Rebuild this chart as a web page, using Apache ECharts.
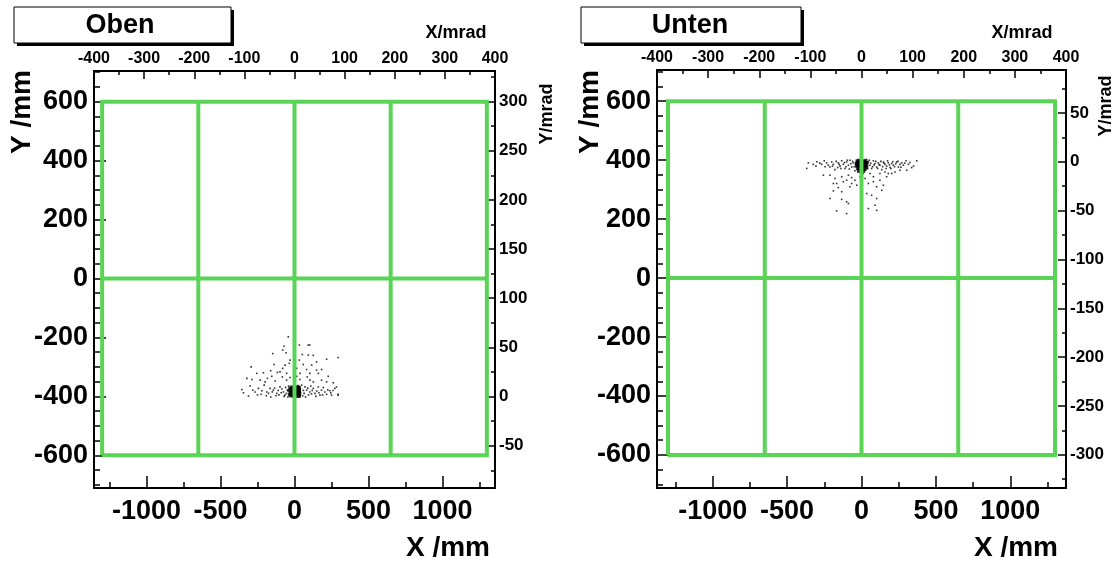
<!DOCTYPE html>
<html>
<head>
<meta charset="utf-8">
<script src="https://cdn.jsdelivr.net/npm/echarts@6/dist/echarts.min.js"></script>
<style>html,body{margin:0;padding:0;background:#fff}#c{width:1120px;height:561px}</style>
</head>
<body>
<div id="c"></div>
<script>
// ---------------- data ----------------
const panelTitles = ['Oben', 'Unten'];
const gridXmm = [-1300, -650, 0, 650, 1300];
const gridYmm = [-600, 0, 600];
const xMmLabels = [-1000, -500, 0, 500, 1000];
const xMmMinor = [-1250, -750, -250, 250, 750, 1250];
const yMmLabels = [-600, -400, -200, 0, 200, 400, 600];
const yMmMinor = [-700, -650, -550, -500, -450, -350, -300, -250, -150, -100, -50, 50, 100, 150, 250, 300, 350, 450, 500, 550, 650, 700];
const xMradLabels = [-400, -300, -200, -100, 0, 100, 200, 300, 400];
const xMradMinor = [-350, -250, -150, -50, 50, 150, 250, 350];
const yMradLabelsOben = [-50, 0, 50, 100, 150, 200, 250, 300];
const yMradMinorOben = [-75, -25, 25, 75, 125, 175, 225, 275, 325];
const yMradLabelsUnten = [-300, -250, -200, -150, -100, -50, 0, 50];
const yMradMinorUnten = [-325, -275, -225, -175, -125, -75, -25, 25, 75];

// hits, Oben (x mm, y mm)
const obenSparse = [[-42,-198],[33,-226],[93,-226],[104,-226],[-71,-230],[-80,-243],[-147,-255],[-57,-252],[53,-258],[93,-260],[127,-261],[295,-268],[-30,-277],[33,-277],[217,-274],[149,-283],[-64,-294],[-35,-288],[-293,-300],[-138,-292],[59,-292],[116,-294],[-80,-305],[15,-305],[82,-309],[149,-311],[183,-309],[-255,-322],[-210,-320],[-161,-313],[-98,-317],[-116,-319],[-53,-322],[37,-322],[104,-322],[161,-322],[228,-332],[-183,-339],[-154,-332],[-82,-334],[-30,-336],[15,-332],[86,-334],[-322,-339],[-288,-343],[-232,-345],[-199,-351],[-131,-348],[-53,-345],[37,-343],[104,-345],[127,-351],[183,-345],[217,-351],[262,-354]];
const obenBand = [[-356,-377],[-345,-388],[-300,-365],[-282,-379],[-266,-385],[-244,-373],[-221,-381],[-311,-399],[-226,-393],[-187,-385],[-165,-373],[-143,-379],[-120,-390],[-98,-368],[-75,-385],[-64,-396],[-48,-379],[-30,-373],[48,-362],[71,-368],[82,-379],[104,-385],[127,-373],[138,-390],[161,-368],[172,-396],[183,-379],[205,-385],[217,-393],[239,-381],[250,-396],[273,-373],[295,-396],[284,-368],[295,-393],[-250,-395],[-205,-362],[-190,-398],[-175,-390],[-160,-402],[-150,-385],[-135,-372],[-125,-398],[-110,-380],[-105,-395],[-90,-388],[-85,-375],[-70,-400],[-60,-370],[-55,-390],[-45,-402],[-40,-365],[-35,-395],[-25,-383],[-20,-400],[-15,-370],[55,-398],[60,-380],[65,-390],[75,-402],[90,-372],[95,-395],[110,-365],[115,-392],[120,-380],[145,-400],[150,-382],[165,-388],[190,-395],[195,-370],[225,-378],[245,-388],[260,-380]];
const obenCore = [[-38,-380],[-35,-392],[-32,-372],[-30,-398],[-28,-385],[-25,-376],[-22,-390],[-20,-368],[-18,-395],[-15,-382],[-12,-375],[-10,-400],[-8,-388],[-5,-378],[-3,-393],[0,-370],[2,-385],[5,-398],[8,-376],[10,-390],[12,-368],[14,-380],[15,-395],[17,-372],[18,-386],[20,-400],[21,-378],[22,-392],[24,-366],[25,-384],[26,-398],[27,-374],[28,-388],[30,-380],[31,-394],[32,-370],[33,-386],[34,-400],[35,-376],[36,-390],[22,-382],[26,-378],[30,-372],[19,-395],[28,-396],[33,-380],[24,-388],[16,-384],[20,-374],[31,-386]];

// hits, Unten (x mm, y mm)
const untenBand = [[-357,391],[-368,372],[-324,386],[-306,380],[-268,386],[-234,391],[-223,383],[-212,377],[-200,394],[-189,386],[-178,368],[-156,391],[-144,380],[-133,398],[-122,386],[-111,372],[-100,394],[-88,383],[-77,400],[-66,377],[-55,391],[-44,364],[-32,394],[-21,380],[46,394],[57,383],[68,372],[80,398],[91,389],[102,377],[113,391],[124,383],[136,368],[147,394],[158,386],[169,380],[180,391],[192,375],[203,389],[214,383],[236,394],[248,377],[259,386],[270,391],[281,383],[299,398],[315,386],[337,375],[371,398],[-300,395],[-280,390],[-250,398],[-245,378],[-195,380],[-170,396],[-160,375],[-150,386],[-138,372],[-115,392],[-105,378],[-95,400],[-82,370],[-72,388],[-60,396],[-50,378],[-40,386],[-28,370],[-25,399],[-15,390],[30,386],[40,372],[52,400],[62,390],[75,378],[85,384],[96,396],[108,372],[118,385],[130,396],[142,378],[152,390],[165,372],[175,398],[188,384],[198,372],[210,395],[222,378],[230,388],[245,396],[265,376],[290,390],[325,392],[350,380]];
const untenSparse = [[-256,349],[-189,321],[-167,321],[-156,307],[-122,327],[-100,332],[-77,310],[-66,321],[-44,332],[-32,315],[-189,296],[-133,293],[-212,270],[-133,267],[-100,259],[-88,253],[-167,228],[-100,219],[24,338],[46,321],[80,327],[102,310],[124,332],[136,298],[147,315],[169,344],[180,355],[35,287],[68,281],[102,270],[46,236],[91,247],[102,230],[-10,344],[12,355],[57,355],[80,344],[124,355],[158,360],[203,355],[225,360],[259,366],[304,366],[-212,349],[-178,338],[-133,344],[-88,349],[-66,341]];
const untenCore = [[-35,390],[-32,378],[-30,398],[-28,384],[-25,370],[-22,394],[-20,380],[-18,400],[-15,388],[-12,372],[-10,396],[-8,382],[-5,390],[-3,376],[0,400],[3,386],[5,366],[8,394],[10,380],[12,398],[14,372],[16,388],[18,378],[20,396],[22,384],[24,368],[26,392],[28,380],[30,400],[32,386],[35,374],[38,392],[-26,388],[-16,394],[-6,386],[6,392],[16,382],[26,386],[36,382],[-34,384],[-12,380],[0,378],[10,388],[20,388],[30,392],[-20,362],[15,362],[-5,364]];

// ---------------- chart ----------------
const FONT = '"Liberation Sans", Arial, Helvetica, sans-serif';
const GREEN = '#59d454';

function mkAxis(o) {
  const a = {
    type: 'value', gridIndex: o.g, position: o.pos, min: o.min, max: o.max, offset: 0,
    axisLine: { show: !!o.line, onZero: false, lineStyle: { color: '#000', width: 2 } },
    axisTick: { show: true, inside: true, length: o.len, customValues: o.ticks, lineStyle: { color: '#000', width: 1.5 } },
    axisLabel: { show: false },
    splitLine: { show: false }, minorTick: { show: false }, splitArea: { show: false },
    axisPointer: { show: false }
  };
  if (o.labels) {
    a.axisLabel = { show: true, customValues: o.labels, formatter: v => String(v), fontFamily: FONT,
      fontWeight: 'bold', fontSize: o.fs, color: '#000', margin: o.margin };
  }
  return a;
}

const panels = [
  { grid: { left: 94, top: 71, width: 401, height: 417 }, xmm: [-1355, 1355], ymm: [-711, 704], ymrad: [-93, 331],
    mradLabels: yMradLabelsOben, mradMinor: yMradMinorOben, pts: [obenSparse, obenBand], core: obenCore },
  { grid: { left: 657, top: 70, width: 409, height: 418 }, xmm: [-1374, 1374], ymm: [-712, 706], ymrad: [-334, 94],
    mradLabels: yMradLabelsUnten, mradMinor: yMradMinorUnten, pts: [untenSparse, untenBand], core: untenCore }
];

const grids = [], xAxes = [], yAxes = [], series = [];
panels.forEach((p, i) => {
  grids.push(Object.assign({ containLabel: false }, p.grid));
  const xi = xAxes.length, yi = yAxes.length;
  xAxes.push(mkAxis({ g: i, pos: 'bottom', min: p.xmm[0], max: p.xmm[1], line: true, len: 12, ticks: xMmLabels, labels: xMmLabels, fs: 27, margin: 10 }));
  xAxes.push(mkAxis({ g: i, pos: 'bottom', min: p.xmm[0], max: p.xmm[1], len: 6, ticks: xMmMinor }));
  xAxes.push(mkAxis({ g: i, pos: 'top', min: -400, max: 400, line: true, len: 8, ticks: xMradLabels, labels: xMradLabels, fs: 16, margin: 4 }));
  xAxes.push(mkAxis({ g: i, pos: 'top', min: -400, max: 400, len: 4, ticks: xMradMinor }));
  yAxes.push(mkAxis({ g: i, pos: 'left', min: p.ymm[0], max: p.ymm[1], line: true, len: 12, ticks: yMmLabels, labels: yMmLabels, fs: 27, margin: 6 }));
  yAxes.push(mkAxis({ g: i, pos: 'left', min: p.ymm[0], max: p.ymm[1], len: 6, ticks: yMmMinor }));
  yAxes.push(mkAxis({ g: i, pos: 'right', min: p.ymrad[0], max: p.ymrad[1], line: true, len: 8, ticks: p.mradLabels, labels: p.mradLabels, fs: 17, margin: 4 }));
  yAxes.push(mkAxis({ g: i, pos: 'right', min: p.ymrad[0], max: p.ymrad[1], len: 4, ticks: p.mradMinor }));

  p.pts.forEach(d => series.push({ type: 'scatter', xAxisIndex: xi, yAxisIndex: yi, data: d, symbol: 'rect',
    symbolSize: 1.6, itemStyle: { color: '#000' }, silent: true, z: 2 }));
  series.push({ type: 'scatter', xAxisIndex: xi, yAxisIndex: yi, data: p.core, symbol: 'rect',
    symbolSize: 3, itemStyle: { color: '#000' }, silent: true, z: 2 });

  const gx0 = gridXmm[0], gx1 = gridXmm[gridXmm.length - 1];
  const gy0 = gridYmm[0], gy1 = gridYmm[gridYmm.length - 1];
  const segs = [{ coords: [[gx0, gy0], [gx1, gy0], [gx1, gy1], [gx0, gy1], [gx0, gy0]] }];
  gridXmm.slice(1, -1).forEach(x => segs.push({ coords: [[x, gy0], [x, gy1]] }));
  gridYmm.slice(1, -1).forEach(y => segs.push({ coords: [[gx0, y], [gx1, y]] }));
  series.push({ type: 'lines', coordinateSystem: 'cartesian2d', xAxisIndex: xi, yAxisIndex: yi, polyline: true,
    data: segs, lineStyle: { color: GREEN, width: 4, opacity: 1, join: 'miter' }, silent: true, z: 3 });
});

function txt(x, y, s, fs, opts) {
  return Object.assign({ type: 'text', x: x, y: y, silent: true,
    style: { text: s, fill: '#000', font: 'bold ' + fs + 'px ' + FONT, align: 'center', verticalAlign: 'middle' } }, opts || {});
}
function titleBox(x, y, w, h, s, tx) {
  return [
    { type: 'rect', shape: { x: x + 3, y: y + 3, width: w, height: h }, style: { fill: '#000' }, silent: true },
    { type: 'rect', shape: { x: x, y: y, width: w, height: h }, style: { fill: '#fff', stroke: '#000', lineWidth: 1 }, silent: true },
    txt(tx, y + h / 2 + 1, s, 27)
  ];
}

const graphics = [].concat(
  titleBox(14, 7, 217, 36, panelTitles[0], 120),
  titleBox(581, 7, 220, 36, panelTitles[1], 690),
  [
    txt(456, 33, 'X/mrad', 18),
    txt(1022, 33, 'X/mrad', 18),
    txt(547, 114, 'Y/mrad', 18, { rotation: Math.PI / 2 }),
    txt(1106, 106, 'Y/mrad', 18, { rotation: Math.PI / 2 }),
    txt(22, 112, 'Y /mm', 28, { rotation: Math.PI / 2 }),
    txt(590, 112, 'Y /mm', 28, { rotation: Math.PI / 2 }),
    txt(448, 548, 'X /mm', 28),
    txt(1016, 548, 'X /mm', 28)
  ]
);

const chart = echarts.init(document.getElementById('c'), null, { renderer: 'canvas' });
chart.setOption({
  animation: false,
  backgroundColor: '#fff',
  grid: grids,
  xAxis: xAxes,
  yAxis: yAxes,
  series: series,
  graphic: graphics
});
</script>
</body>
</html>
